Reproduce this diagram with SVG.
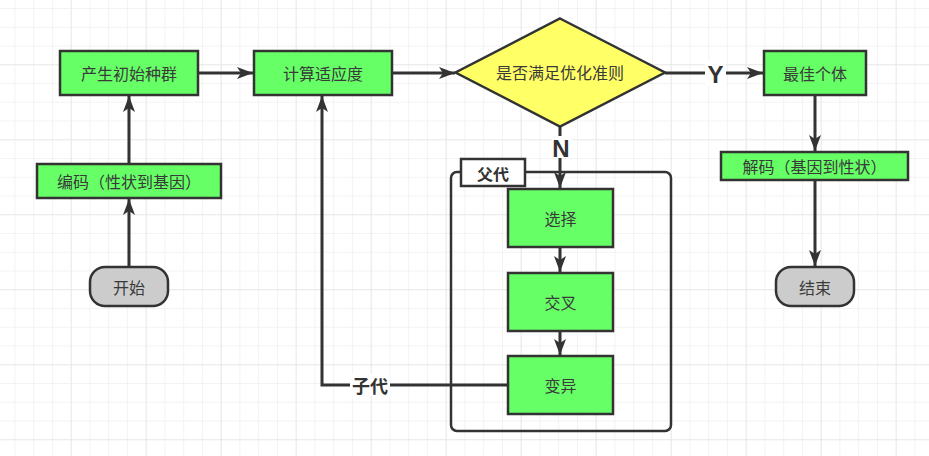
<svg xmlns="http://www.w3.org/2000/svg" width="929" height="456" viewBox="0 0 929 456">
  <defs>
    <pattern id="minor" patternUnits="userSpaceOnUse" x="14.45" y="8" width="18.75" height="18.75">
      <path d="M0,0 V18.75 M0,0 H18.75" fill="none" stroke="#f0f0f0" stroke-width="1.5"/>
    </pattern>
    <pattern id="major" patternUnits="userSpaceOnUse" x="70.7" y="64.25" width="75" height="75">
      <path d="M0,0 V75 M0,0 H75" fill="none" stroke="#e6e6e6" stroke-width="1.5"/>
    </pattern>
    <marker id="arrow" markerUnits="userSpaceOnUse" markerWidth="18" markerHeight="14" viewBox="0 0 18 14" refX="16" refY="6" orient="auto">
      <path d="M0,0 L16,6 L0,12 L4,6 Z" fill="#333333"/>
    </marker>
  </defs>
  <style>
    .proc { fill: #66ff66; stroke: #333333; stroke-width: 2.5; }
    .term { fill: #cccccc; stroke: #333333; stroke-width: 2.5; }
    .dec { fill: #ffff66; stroke: #333333; stroke-width: 2.5; }
    .cont { fill: none; stroke: #333333; stroke-width: 2.5; }
    .tag { fill: #ffffff; stroke: #333333; stroke-width: 2.5; }
    .lbl { font-family: "Noto Sans CJK SC", "Noto Sans", sans-serif; font-size: 16px; fill: #3a3a3a; text-anchor: middle; dominant-baseline: central; }
    .edge { fill: none; stroke: #333333; stroke-width: 3; }
    .arr { marker-end: url(#arrow); }
    .elbl { font-family: "Liberation Sans", "Noto Sans CJK SC", sans-serif; font-weight: bold; fill: #333333; text-anchor: middle; dominant-baseline: central; }
  </style>
  <rect x="0" y="0" width="929" height="456" fill="#ffffff"/>
  <rect x="0" y="0" width="929" height="456" fill="url(#minor)"/>
  <rect x="0" y="0" width="929" height="456" fill="url(#major)"/>

  <g id="parent-container">
    <rect class="cont" x="451" y="172" width="220" height="259" rx="6"/>
    <rect class="tag" x="461" y="159" width="64" height="27"/>
    <text class="lbl" x="493" y="172.5" style="font-weight:bold;font-size:16px;fill:#333333">父代</text>
  </g>

  <g id="connectors">
    <line class="edge arr" x1="129" y1="164" x2="129" y2="96"/>
    <line class="edge arr" x1="129" y1="267" x2="129" y2="199"/>
    <line class="edge arr" x1="198" y1="73" x2="253" y2="73"/>
    <line class="edge arr" x1="392" y1="73" x2="455" y2="73"/>
    <line class="edge arr" x1="665" y1="73" x2="763" y2="73"/>
    <line class="edge arr" x1="815" y1="95" x2="815" y2="151"/>
    <line class="edge arr" x1="815" y1="180" x2="815" y2="266"/>
    <line class="edge arr" x1="560" y1="127" x2="560" y2="188"/>
    <line class="edge arr" x1="560" y1="247" x2="560" y2="272"/>
    <line class="edge arr" x1="560" y1="331" x2="560" y2="355"/>
    <path class="edge arr" d="M508,385 H322 V96"/>
    <rect x="705" y="61" width="21" height="25" fill="#ffffff"/>
    <text class="elbl" x="715.5" y="74" style="font-size:24px">Y</text>
    <rect x="552" y="136" width="20" height="22" fill="#ffffff"/>
    <text class="elbl" x="561" y="148" style="font-size:24px">N</text>
    <rect x="350" y="374" width="40" height="22" fill="#ffffff"/>
    <text class="elbl" x="370" y="385" style="font-size:18px;font-family:'Noto Sans CJK SC',sans-serif">子代</text>
  </g>

  <g id="n-init">
    <rect class="proc" x="60" y="51" width="138" height="44"/>
    <text class="lbl" x="129" y="73">产生初始种群</text>
  </g>
  <g id="n-fitness">
    <rect class="proc" x="254" y="51" width="138" height="44"/>
    <text class="lbl" x="323" y="73">计算适应度</text>
  </g>
  <g id="n-decision">
    <polygon class="dec" points="560,18.5 665,72.5 560,126.5 455.5,72.5"/>
    <text class="lbl" x="560" y="72">是否满足优化准则</text>
  </g>
  <g id="n-best">
    <rect class="proc" x="764" y="51" width="102" height="44"/>
    <text class="lbl" x="815" y="73">最佳个体</text>
  </g>
  <g id="n-decode">
    <rect class="proc" x="721" y="152" width="187" height="28"/>
    <text class="lbl" x="814.5" y="166">解码（基因到性状）</text>
  </g>
  <g id="n-end">
    <rect class="term" x="776" y="267" width="78" height="39" rx="15"/>
    <text class="lbl" x="815" y="286.5">结束</text>
  </g>
  <g id="n-encode">
    <rect class="proc" x="37" y="164" width="184" height="34"/>
    <text class="lbl" x="129" y="181">编码（性状到基因）</text>
  </g>
  <g id="n-start">
    <rect class="term" x="90" y="267" width="78" height="39" rx="15"/>
    <text class="lbl" x="129" y="286.5">开始</text>
  </g>
  <g id="n-select">
    <rect class="proc" x="508" y="189" width="105" height="58"/>
    <text class="lbl" x="560.5" y="218">选择</text>
  </g>
  <g id="n-crossover">
    <rect class="proc" x="508" y="273" width="105" height="58"/>
    <text class="lbl" x="560.5" y="302">交叉</text>
  </g>
  <g id="n-mutation">
    <rect class="proc" x="508" y="356" width="105" height="58"/>
    <text class="lbl" x="560.5" y="385">变异</text>
  </g>
</svg>
